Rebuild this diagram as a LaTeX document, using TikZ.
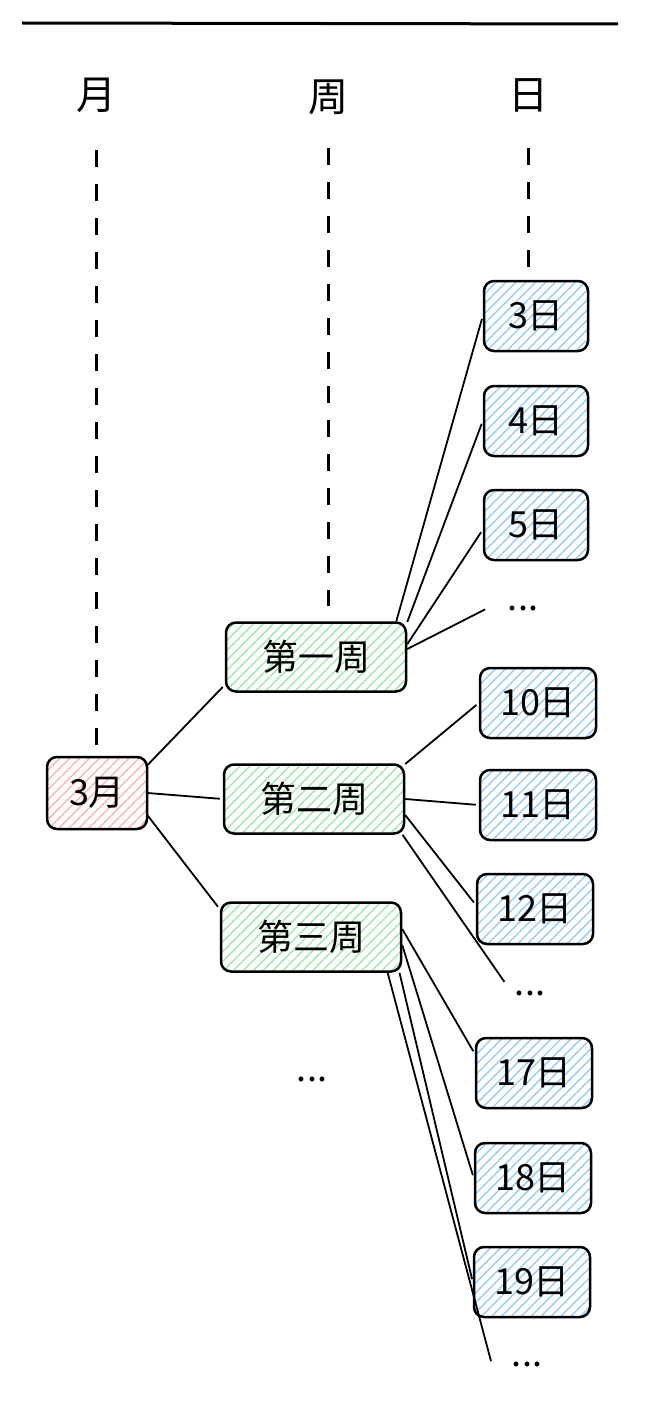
\documentclass[tikz,border=0pt]{standalone}
\usepackage{fontspec}
\setmainfont{Noto Sans CJK SC}
\usetikzlibrary{patterns.meta}
\definecolor{rojo}{HTML}{FFB3BA}
\definecolor{verde}{HTML}{A0E8AB}
\definecolor{azul}{HTML}{98CCF8}
\begin{document}
\begin{tikzpicture}[x=1pt,y=-1pt,
    caja/.style={draw,line width=2.5pt,rounded corners=10pt,inner sep=0pt,
      font=\fontsize{36}{40}\selectfont,
      pattern={Lines[angle=45,distance=7pt,line width=1.4pt]}},
    mes/.style={caja,pattern color=rojo,minimum width=100pt,minimum height=72pt},
    semana/.style={caja,pattern color=verde,minimum width=180pt,minimum height=69pt},
    dia/.style={caja,pattern color=azul,minimum width=104pt,minimum height=70pt},
    diados/.style={dia,minimum width=116pt},
    puntos/.style={inner ysep=6pt,inner xsep=20pt,font=\fontsize{36}{40}\selectfont},
    cabecera/.style={font=\fontsize{40}{44}\selectfont},
    guia/.style={line width=3pt,dash pattern=on 17pt off 17pt},
    enlace/.style={line width=1.8pt,shorten >=3pt}]
    \useasboundingbox (0,0) rectangle (656,1402);

    % Cabecera
    \draw[line width=3pt] (22,23) -- (618,24);
    \node[cabecera] (hm) at (96,95) {月};
    \node[cabecera] (hw) at (328,97) {周};
    \node[cabecera] (hd) at (528,95) {日};

    % Mes
    \node[mes] (m3) at (97,793) {3月};

    % Semanas
    \node[semana] (w1) at (316,657) {第一周};
    \node[semana] (w2) at (314,799) {第二周};
    \node[semana] (w3) at (311,937) {第三周};
    \node[puntos] (pw) at (312,1079) {...};

    % Dias
    \node[dia] (d3) at (536,316) {3日};
    \node[dia] (d4) at (536,421) {4日};
    \node[dia] (d5) at (536,525) {5日};
    \node[puntos] (p1) at (523,608) {...};
    \node[diados] (d10) at (538,703) {10日};
    \node[diados] (d11) at (538,805) {11日};
    \node[diados] (d12) at (535,909) {12日};
    \node[puntos] (p2) at (530,993) {...};
    \node[diados] (d17) at (534,1073) {17日};
    \node[diados] (d18) at (533,1178) {18日};
    \node[diados] (d19) at (532,1282) {19日};
    \node[puntos] (p3) at (527,1364) {...};

    % Guias
    \draw[guia,shorten <=55pt,shorten >=9pt] (hm.center) -- (hm.center |- m3.north);
    \draw[guia,shorten <=51pt,shorten >=15pt] (hw.center) -- (hw.center |- w1.north);
    \draw[guia,shorten <=53pt,shorten >=13pt] (hd.center) -- (hd.center |- d3.north);

    % Enlaces
    \draw[enlace] (m3.29) -- (w1.197);
    \draw[enlace] (m3.east) -- (w2.west);
    \draw[enlace] (m3.336) -- (w3.163);
    \draw[enlace] (w1.24) -- (d3.west);
    \draw[enlace] (w1.21) -- (d4.west);
    \draw[enlace] (w1.8) -- (d5.185);
    \draw[enlace] (w1.5) -- (p1.west);
    \draw[enlace] (w2.21) -- (d10.west);
    \draw[enlace] (w2.east) -- (d11.west);
    \draw[enlace] (w2.350) -- (d12.176);
    \draw[enlace] (w2.338) -- (p2.160);
    \draw[enlace] (w3.5) -- (d17.162);
    \draw[enlace] (w3.355) -- (d18.west);
    \draw[enlace] (w3.338) -- (d19.west);
    \draw[enlace] (w3.335) -- (p3.west);
\end{tikzpicture}
\end{document}
